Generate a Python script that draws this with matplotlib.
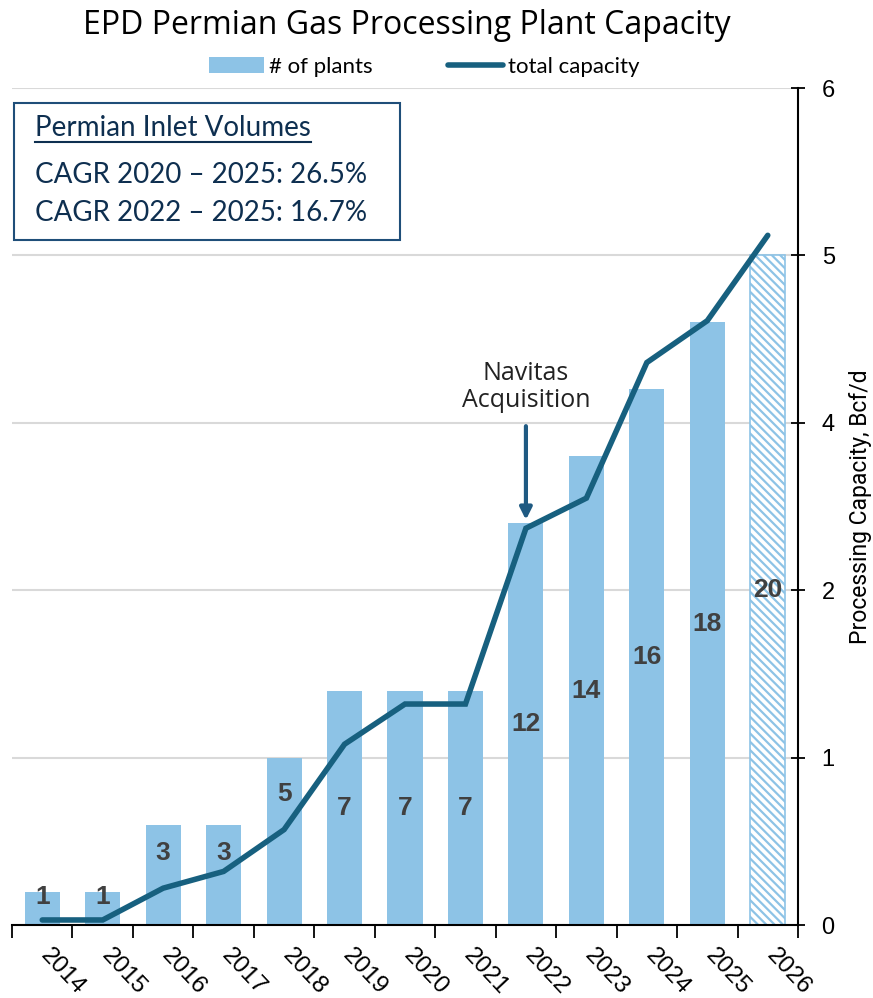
import matplotlib
matplotlib.use('Agg')
from matplotlib import pyplot as plt
from matplotlib.patches import Rectangle, Patch
from matplotlib.lines import Line2D

years = ['2014', '2015', '2016', '2017', '2018', '2019', '2020',
         '2021', '2022', '2023', '2024', '2025', '2026']
plants = [1, 1, 3, 3, 5, 7, 7, 7, 12, 14, 16, 18, 20]
capacity = [0.03, 0.03, 0.22, 0.32, 0.57, 1.08, 1.32, 1.32, 2.37, 2.55, 3.36, 3.61, 4.12]
cap_ticks = [0, 1, 2, 3, 4, 5]
cap_ticklabels = ['0', '1', '2', '4', '5', '6']
box_lines = ['Permian Inlet Volumes', 'CAGR 2020 \u2013 2025: 26.5%', 'CAGR 2022 \u2013 2025: 16.7%']

bar_color = '#8DC3E6'
line_color = '#17607F'
navy = '#0E2F50'
arial = ['Liberation Sans', 'DejaVu Sans']
W, H = 873, 998


def fx(x):
    return x / W


def fy(y):
    return 1 - y / H


fig = plt.figure(figsize=(8.73, 9.98), dpi=100)
ax = fig.add_axes([fx(12), fy(925), (798 - 12) / W, (925 - 88) / H])
ax2 = ax.twinx()

x = list(range(len(years)))
ax.bar(x[:-1], plants[:-1], width=0.58, color=bar_color, zorder=2)
plt.rcParams['hatch.linewidth'] = 1.6
plt.rcParams['hatch.color'] = bar_color
ax.bar(x[-1], plants[-1], width=0.58, facecolor='white', edgecolor=bar_color,
       hatch='\\\\\\\\', linewidth=1.2, zorder=2)

# label heights as fraction of the bar
frac = [0.85, 0.85, 0.72, 0.72, 0.78, 0.5, 0.5, 0.5, 0.5, 0.5, 0.5, 0.5, 0.5]
for i, p in enumerate(plants):
    ax.text(i, p * frac[i], str(p), ha='center', va='center', fontsize=19,
            fontweight='bold', color='#404040', family=arial, zorder=3)

ax.set_xlim(-0.5, len(years) - 0.5)
ax.set_ylim(0, 25)
ax.set_yticks([0, 5, 10, 15, 20, 25])
ax.yaxis.grid(True, color='#D9D9D9', linewidth=1.5)
ax.set_axisbelow(True)
ax.tick_params(axis='y', left=False, labelleft=False)
for s in ['left', 'top', 'right']:
    ax.spines[s].set_visible(False)
ax.spines['bottom'].set_linewidth(1.5)

ax.set_xticks([i - 0.1 for i in x])
ax.set_xticklabels(years, rotation=-47, ha='left', va='top', fontsize=17.5, family=arial)
ax.tick_params(axis='x', which='major', length=0, pad=14)
ax.set_xticks([i - 0.5 for i in range(len(years) + 1)], minor=True)
ax.tick_params(axis='x', which='minor', length=9, width=1.3, direction='out')

ax2.plot(x, capacity, color=line_color, linewidth=4, solid_capstyle='round',
         solid_joinstyle='miter', zorder=4)
ax2.set_ylim(0, 5)
ax2.set_yticks(cap_ticks)
ax2.set_yticklabels(cap_ticklabels, fontsize=17, family=arial)
ax2.tick_params(axis='y', direction='inout', length=10, width=1.3, pad=12)
for s in ['left', 'top', 'bottom']:
    ax2.spines[s].set_visible(False)
ax2.spines['right'].set_linewidth(1.5)
ax2.set_ylabel('Processing Capacity, Bcf/d', fontsize=16.5, family=['Roboto', 'DejaVu Sans'],
               labelpad=10)

# annotation
ax2.annotate('', xy=(8, 2.42), xytext=(8, 2.98),
             arrowprops=dict(arrowstyle='-|>,head_width=0.35,head_length=0.7',
                             color='#1F5A82', lw=3, shrinkA=0, shrinkB=0))
ax2.text(8, 3.06, 'Navitas\nAcquisition', ha='center', va='bottom', fontsize=18,
         family=['Open Sans', 'DejaVu Sans'], color='#222222', linespacing=1.1)

fig.text(fx(407), fy(25), 'EPD Permian Gas Processing Plant Capacity', ha='center', va='center',
         fontsize=23, family=['Open Sans', 'DejaVu Sans'], color='black')

handles = [Patch(facecolor=bar_color, edgecolor='none'),
           Line2D([0], [0], color=line_color, linewidth=4, solid_capstyle='round')]
fig.legend(handles, ['# of plants', 'total capacity'], loc='center',
           bbox_to_anchor=(fx(424), fy(67)), ncol=2, frameon=False,
           prop={'family': ['Lato', 'DejaVu Sans'], 'size': 16},
           handlelength=2.5, handletextpad=0.2, columnspacing=3.4)

# inlet volume box
fig.patches.append(Rectangle((fx(14), fy(240)), (400 - 14) / W, (240 - 103) / H,
                             transform=fig.transFigure, facecolor='white',
                             edgecolor='#1F4E79', linewidth=1.5, zorder=5))
t0 = fig.text(fx(35), fy(128), box_lines[0], ha='left', va='center', fontsize=20,
              family=['Lato', 'DejaVu Sans'], color=navy, zorder=6)
fig.text(fx(35), fy(175), box_lines[1], ha='left', va='center', fontsize=20,
         family=['Lato', 'DejaVu Sans'], color=navy, zorder=6)
fig.text(fx(35), fy(213), box_lines[2], ha='left', va='center', fontsize=20,
         family=['Lato', 'DejaVu Sans'], color=navy, zorder=6)
fig.canvas.draw()
bb = t0.get_window_extent().transformed(fig.transFigure.inverted())
fig.lines.append(Line2D([bb.x0, bb.x1], [bb.y0 - 0.001, bb.y0 - 0.001],
                        transform=fig.transFigure, color=navy, linewidth=1.5, zorder=6))

fig.savefig('out.png', dpi=100)
